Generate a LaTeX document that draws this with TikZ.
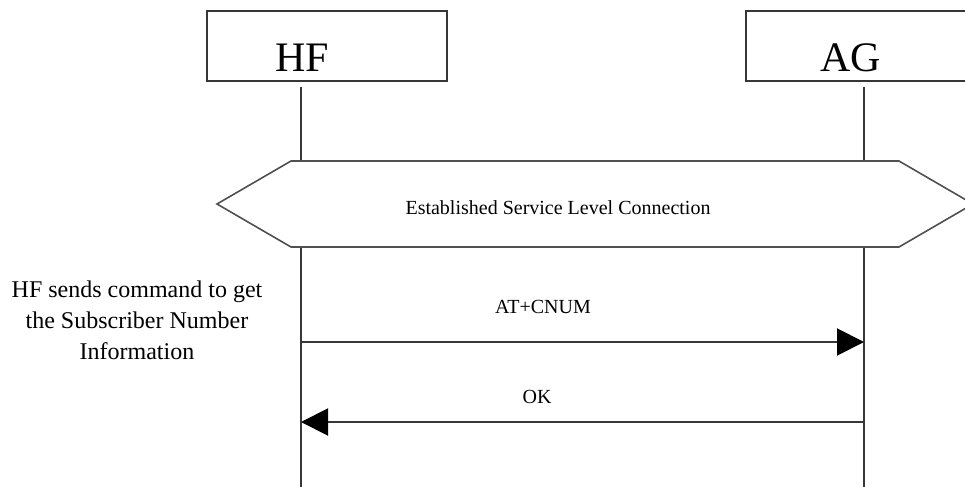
\documentclass[tikz,border=0pt]{standalone}
\usepackage{fontspec}
\setmainfont{Liberation Serif}
\usetikzlibrary{arrows.meta,positioning,calc}
\definecolor{linegrey}{RGB}{55,55,55}
\definecolor{hexgrey}{RGB}{80,80,80}
\tikzset{
  actor/.style={draw=linegrey,line width=1pt,minimum width=120pt,minimum height=35pt,inner sep=0pt},
  actorlbl/.style={anchor=base,inner sep=0pt,font=\fontsize{21}{25}\selectfont},
  lifeln/.style={draw=linegrey,line width=0.8pt},
  hexa/.style={draw=hexgrey,line width=0.8pt,fill=white},
  msg/.style={-{Triangle[length=13.5pt,width=13.5pt]},line width=1pt,draw=linegrey,
              arrows={-{Triangle[length=13.5pt,width=13.5pt,color=black]}}},
  lbl/.style={anchor=base,inner sep=0pt,font=\fontsize{10}{12}\selectfont},
  note/.style={anchor=north,inner sep=0pt,align=center,font=\fontsize{12}{15.5}\selectfont},
}

\begin{document}
\begin{tikzpicture}[x=0.5pt,y=-0.5pt]
  \useasboundingbox (0,0) rectangle (965,487);

  % entities
  \node[actor] (hf) at (327,46) {};
  \node[actor] (ag) at (866,46) {};
  \node[actorlbl] (hflbl) at (302,71) {HF};
  \node[actorlbl] (aglbl) at (851,71) {AG};

  % lifelines
  \coordinate (hftop) at (301,87);
  \coordinate (agtop) at (864,87);
  \coordinate (hfend) at (301,487);
  \coordinate (agend) at (864,487);
  \draw[lifeln] (hftop) -- (hfend);
  \draw[lifeln] (agtop) -- (agend);

  % service level connection
  \draw[hexa] (217,204) -- (291,161) -- (899,161) -- (973,204) -- (899,247) -- (291,247) -- cycle;
  \node[lbl] (slc) at (558,214) {Established Service Level Connection};

  % messages
  \coordinate (cnumhf) at (hftop |- 0,342);
  \coordinate (cnumag) at (agtop |- 0,342);
  \coordinate (okhf) at (hftop |- 0,422);
  \coordinate (okag) at (agtop |- 0,422);
  \draw[msg] (cnumhf) -- (cnumag);
  \node[lbl] (cnum) at (543,313) {AT+CNUM};
  \draw[msg] (okag) -- (okhf);
  \node[lbl] (ok) at (537,403) {OK};

  \node[note] (cmd) at (137,280)
    {HF sends command to get\\the Subscriber Number\\Information};
\end{tikzpicture}
\end{document}
